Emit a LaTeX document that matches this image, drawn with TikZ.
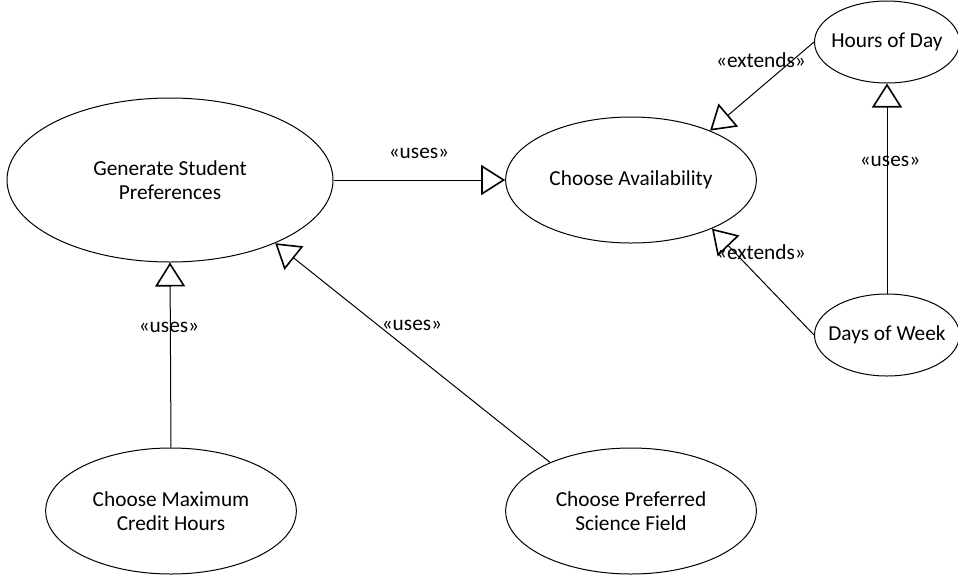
\documentclass[tikz,border=0pt]{standalone}
\usepackage{fontspec}
\setmainfont{Carlito}
\usetikzlibrary{shapes.geometric,arrows.meta}

\tikzset{
  usecase/.style={draw, ellipse, line width=0.75pt, inner sep=0pt, align=center,
    font=\fontsize{16pt}{18.5pt}\selectfont},
  bigcase/.style={usecase, minimum width=244.5pt, minimum height=123pt},
  midcase/.style={usecase, minimum width=188pt, minimum height=94.5pt},
  smallcase/.style={usecase, inner xsep=-14pt, minimum width=108.75pt, minimum height=61.5pt},
  openarrow/.style={line width=0.75pt, -{Triangle[open, length=18pt, width=22.5pt, line width=1.2pt]}},
  stereo/.style={inner sep=0pt, font=\fontsize{16pt}{18.5pt}\selectfont}
}

\begin{document}
\begin{tikzpicture}[x=0.75pt, y=-0.75pt]
            \useasboundingbox (0,0) rectangle (958,576);
            % Use cases
            \node[bigcase] (gen) at (170,180) {Generate Student\\Preferences};
            \node[midcase] (avail) at (631,180) {Choose Availability};
            \node[smallcase] (hours) at (887,42) {Hours of Day};
            \node[smallcase] (days) at (887,335) {Days of Week};
            \node[midcase] (maxhours) at (171,511) {Choose Maximum\\Credit Hours};
            \node[midcase] (field) at (631,511) {Choose Preferred\\Science Field};
            % Relations
            \draw[openarrow] (gen.east) -- (avail.west);
            \draw[openarrow] (hours.west) -- (avail.32);
            \draw[openarrow] (days.west) -- (avail.-31);
            \draw[openarrow] (days.north) -- (hours.south);
            \draw[openarrow] (maxhours.north) -- (gen.south);
            \draw[openarrow] (field.149) -- (gen.-31);
            % Stereotype labels
            \node[stereo] (usesgen) at (419,153) {«uses»};
            \node[stereo] (extendshours) at (761,60) {«extends»};
            \node[stereo] (extendsdays) at (761,252) {«extends»};
            \node[stereo] (usesdays) at (890,161) {«uses»};
            \node[stereo] (usesmax) at (169,327) {«uses»};
            \node[stereo] (usesfield) at (412,325) {«uses»};
\end{tikzpicture}
\end{document}
